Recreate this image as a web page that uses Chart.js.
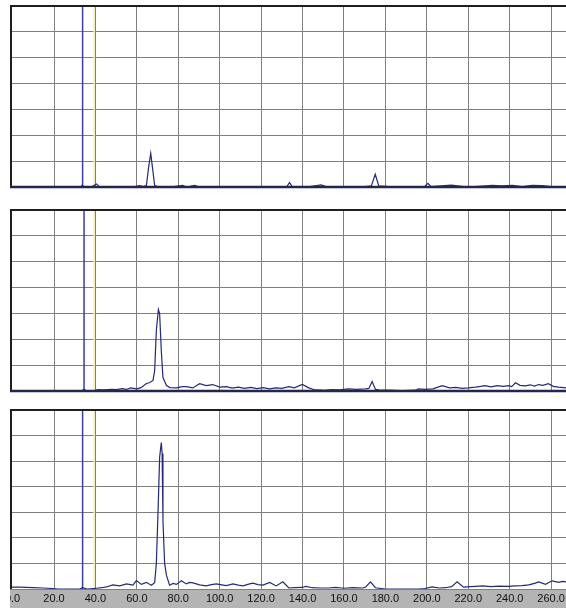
<!DOCTYPE html>
<html>
<head>
<meta charset="utf-8">
<script src="https://cdn.jsdelivr.net/npm/chart.js@4/dist/chart.umd.min.js"></script>
<style>
  html, body { margin: 0; padding: 0; background: #fff; overflow: hidden; }
  body { width: 566px; height: 608px; position: relative; }
  .pane { position: absolute; left: 10px; }
  #p1 { top: 4px;   width: 556px; height: 185px; }
  #p2 { top: 208px; width: 556px; height: 185px; }
  #p3 { top: 408px; width: 556px; height: 200px; }
</style>
</head>
<body>
<div class="pane" id="p1"><canvas id="c1"></canvas></div>
<div class="pane" id="p2"><canvas id="c2"></canvas></div>
<div class="pane" id="p3"><canvas id="c3"></canvas></div>

<script>
/* ── Escalas ── */
const X_MIN = -1.25, X_MAX = 267.2;
const Y_MIN = 0,     Y_MAX = 70;
const xTicks = [0, 20, 40, 60, 80, 100, 120, 140, 160, 180, 200, 220, 240, 260];
const yTicks = [0, 10, 20, 30, 40, 50, 60, 70];

/* ── Cursores verticales (uno por panel) ── */
const blueX   = [33.8, 34.5, 33.8];
const yellowX = [39.4, 39.4, 39.4];

/* ── Panel 1 ── */
const p1X = [
  -1.25, 5, 15, 25, 33, 33.7, 34.4, 38, 40.5, 42,
  50, 58, 61.4, 63, 64.6, 65.7, 66.7, 67.5, 68.6, 70,
  76, 82.1, 84, 88, 90, 100, 110, 120, 128, 132.5,
  133.7, 135, 142, 149, 152, 160, 168, 173.2, 175.1, 176.8,
  185, 195, 199, 200.5, 202, 211.8, 220, 231.6, 236, 241.3,
  246, 251, 255.8, 262, 267.2
];
const p1Y = [
  0, 0, 0, 0, 0, 0.8, 0, 0, 1.2, 0,
  0, 0, 0.5, 0.2, 0.6, 7.8, 13, 7.8, 0.6, 0.2,
  0, 0.6, 0, 0.6, 0, 0, 0, 0, 0, 0.3,
  1.7, 0.2, 0, 0.8, 0, 0, 0, 0.4, 4.9, 0.4,
  0, 0, 0.2, 1.4, 0.2, 0.7, 0, 0.6, 0.4, 0.6,
  0.2, 0.6, 0.5, 0, 0
];

/* ── Panel 2 ── */
const p2X = [
  -1.25, 10, 20, 30, 33, 34.5, 36, 40, 41, 44,
  48, 50, 53, 55, 57, 60, 62, 64.6, 66, 67.8,
  68.6, 69.4, 70.4, 71.0, 71.8, 72.6, 74.3, 76, 79.2, 82,
  84, 87, 90.3, 93.5, 96.6, 100, 103.3, 106, 109, 112,
  115, 118, 121, 124, 127, 130, 133.4, 136, 139.9, 143,
  146, 150, 154, 158, 162, 166, 170.4, 172, 173.6, 175.2,
  178, 182, 188, 194.5, 196, 199, 203, 207.4, 211, 214,
  217, 220, 223.5, 226, 228, 231, 234, 237, 239.4, 241,
  242.8, 245, 247.6, 250, 252, 253.9, 256, 258.7, 261, 263.5,
  266, 267.2
];
const p2Y = [
  0, 0, 0, 0, 0, 0.6, 0, 0.2, 0.5, 0.4,
  0.6, 0.5, 0.9, 0.6, 1.2, 0.8, 1.3, 2.9, 3.2, 4.1,
  7.9, 23.4, 31.5, 29.9, 15.6, 5.2, 2.1, 1.3, 1.2, 1.7,
  1.7, 1.2, 2.8, 2.1, 2.5, 1.5, 1.7, 1.1, 1.5, 1.0,
  1.4, 0.9, 1.3, 0.8, 1.2, 1.0, 1.7, 1.2, 2.5, 1.2,
  0.4, 0.3, 0.5, 0.4, 0.8, 0.6, 0.8, 1.0, 3.7, 0.6,
  0.3, 0.3, 0.2, 0.3, 0.8, 0.6, 0.8, 2.1, 1.2, 1.4,
  1.0, 1.2, 1.5, 1.8, 2.1, 1.6, 2.1, 1.8, 2.1, 1.7,
  3.2, 2.2, 2.0, 2.4, 1.9, 2.5, 2.2, 2.8, 1.8, 1.5,
  1.3, 1.2
];

/* ── Panel 3 ── */
const p3X = [
  -1.25, 3.5, 9.8, 15, 19.4, 22, 28, 32.4, 33.8, 36,
  40.5, 43, 45.3, 48.4, 51.7, 55, 58.1, 59.8, 62.2, 64.6,
  67, 68.6, 69.4, 70.2, 71.0, 71.8, 72.2, 72.6, 73.4, 74.3,
  75.8, 77.5, 79.1, 81.5, 83.9, 85.5, 87.1, 90.3, 93.5, 96,
  98.4, 101, 103.2, 106.4, 109, 111.2, 114, 116, 118.5, 120.9,
  124.1, 127.3, 130.5, 133.4, 136, 139.9, 141.5, 144.7, 148, 152.6,
  156, 160, 164, 169, 170.5, 172.8, 175.2, 178, 180, 188,
  196, 199, 202.6, 206, 209, 212, 214.6, 217.7, 221, 223.5,
  227, 231, 235, 239.4, 242.8, 246, 249.2, 252, 254, 257.3,
  260.5, 263.7, 265.5, 267.2
];
const p3Y = [
  0.7, 0.7, 0.5, 0.4, 0.2, 0, 0, 0, 0.5, 0,
  0.3, 0.5, 0.8, 1.6, 1.2, 2.0, 1.5, 3.3, 1.8, 2.6,
  1.5, 2.5, 10, 29.5, 51.5, 57.3, 53, 26.8, 10, 5.3,
  1.5, 2.2, 1.8, 3.2, 2.0, 2.6, 2.4, 1.6, 1.2, 1.7,
  2.0, 1.6, 1.3, 2.0, 1.5, 1.2, 1.9, 2.3, 1.7, 1.5,
  2.6, 1.2, 2.8, 0.4, 0.5, 0.6, 1.0, 0.5, 0.4, 0.4,
  0.6, 0.3, 0.5, 0.4, 0.8, 2.8, 0.5, 0.2, 0, 0,
  0, 0.2, 0.8, 0.4, 0.5, 0.9, 2.8, 0.7, 0.9, 1.0,
  1.2, 0.9, 1.1, 1.0, 1.2, 1.3, 1.6, 2.2, 2.8, 1.8,
  3.2, 2.6, 3.0, 2.8
];

/* ── Colores ── */
const C_LINE   = "#262a72";
const C_BLUE   = "#3b3f9a";
const C_YELLOW = "#f4ecb4";
const C_GRID   = "#7f7f7f";
const C_FRAME  = "#1e1e1e";
const C_BASE   = "#23264f";
const C_BAND   = "#b4b4b4";

Chart.defaults.font.family = "'Liberation Sans', Arial, sans-serif";

/* ── Marco y banda del eje ── */
const marco = {
  id: "marco",
  beforeDraw(chart, args, o) {
    const { ctx, chartArea: a } = chart;
    if (o.band) {
      ctx.save();
      ctx.fillStyle = C_BAND;
      ctx.fillRect(0, a.bottom, chart.width, chart.height - a.bottom);
      ctx.restore();
    }
  },
  afterDraw(chart, args, o) {
    const { ctx, chartArea: a } = chart;
    ctx.save();
    ctx.strokeStyle = C_FRAME;
    ctx.lineWidth = 2;
    ctx.beginPath();
    ctx.moveTo(a.left + 1, a.bottom);
    ctx.lineTo(a.left + 1, a.top);
    ctx.lineTo(a.right, a.top);
    ctx.stroke();
    if (!o.band) {
      ctx.strokeStyle = C_BASE;
      ctx.lineWidth = 2.5;
      ctx.beginPath();
      ctx.moveTo(a.left, a.bottom);
      ctx.lineTo(a.right, a.bottom);
      ctx.stroke();
    }
    ctx.restore();
  },
};

function vline(x, color, width) {
  return {
    data: [{ x, y: Y_MIN }, { x, y: Y_MAX }],
    borderColor: color,
    borderWidth: width,
    pointRadius: 0,
    order: 2,
  };
}

function panel(id, idx, xs, ys, conEje) {
  const pts = xs.map((x, i) => ({ x, y: ys[i] }));
  return new Chart(document.getElementById(id), {
    type: "line",
    data: {
      datasets: [
        vline(yellowX[idx], C_YELLOW, 1.5),
        vline(blueX[idx], C_BLUE, 1.5),
        {
          data: pts,
          borderColor: C_LINE,
          borderWidth: 1.2,
          pointRadius: 0,
          tension: 0,
          order: 1,
        },
      ],
    },
    options: {
      animation: false,
      responsive: true,
      maintainAspectRatio: false,
      layout: { padding: { top: 2, left: 0, right: 0, bottom: conEje ? 0 : 2 } },
      plugins: {
        legend: { display: false },
        tooltip: { enabled: false },
        marco: { band: conEje },
      },
      scales: {
        x: {
          type: "linear",
          min: X_MIN, max: X_MAX,
          afterBuildTicks: s => { s.ticks = xTicks.map(v => ({ value: v })); },
          afterFit: s => { s.height = conEje ? 19 : 0; s.paddingLeft = 0; s.paddingRight = 0; },
          border: { display: false },
          grid: {
            color: c => (c.tick && c.tick.value === 0 ? "rgba(0,0,0,0)" : C_GRID),
            lineWidth: 1,
            drawTicks: false,
          },
          ticks: {
            display: conEje,
            autoSkip: false,
            maxRotation: 0,
            padding: 3,
            color: "#111",
            font: { size: 11 },
            callback: v => v.toFixed(1),
          },
        },
        y: {
          min: Y_MIN, max: Y_MAX,
          afterBuildTicks: s => { s.ticks = yTicks.map(v => ({ value: v })); },
          afterFit: s => { s.width = 0; },
          border: { display: false },
          grid: { color: C_GRID, lineWidth: 1, drawTicks: false },
          ticks: { display: false },
        },
      },
    },
    plugins: [marco],
  });
}

panel("c1", 0, p1X, p1Y, false);
panel("c2", 1, p2X, p2Y, false);
panel("c3", 2, p3X, p3Y, true);
</script>
</body>
</html>
